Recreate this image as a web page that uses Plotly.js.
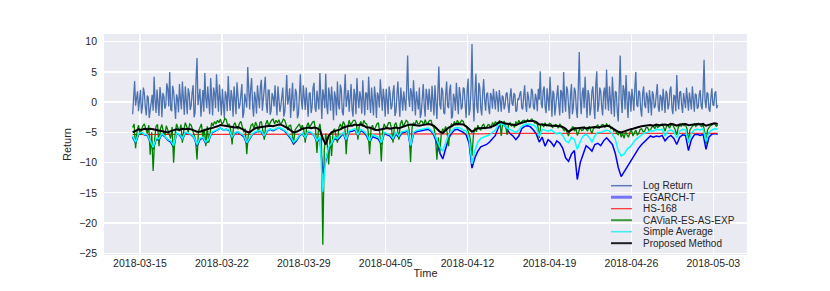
<!DOCTYPE html>
<html><head><meta charset="utf-8">
<script src="https://cdn.plot.ly/plotly-3.0.1.min.js"></script>
<style>html,body{margin:0;padding:0;background:#fff;}#chart{width:830px;height:291px;}</style>
</head><body><div id="chart"></div>
<script>
const seriesNames = ['Log Return','EGARCH-T','HS-168','CAViaR-ES-AS-EXP','Simple Average','Proposed Method'];
const xTickVals = ['2018-03-15','2018-03-22','2018-03-29','2018-04-05','2018-04-12','2018-04-19','2018-04-26','2018-05-03'];
const xTickText = ['2018-03-15','2018-03-22','2018-03-29','2018-04-05','2018-04-12','2018-04-19','2018-04-26','2018-05-03'];
const yTickVals = [-25,-20,-15,-10,-5,0,5,10];
const yTickText = ['\u221225','\u221220','\u221215','\u221210','\u22125','0','5','10'];

// log return, every 2 hours from 2018-03-14 09:00
const logReturn = [
-2.0,1.2,3.5,-0.6,0.5,1.8,-1.5,0.4,2.0,-1.9,-0.8,2.4,1.5,-0.9,-2.2,1.1,0.8,-2.6,-1.0,0.3,
1.2,-1.4,4.2,0.2,-1.8,2.1,0.5,-2.3,2.5,0.9,-2.5,1.5,1.0,-1.1,-0.5,3.1,2.2,-0.7,5.0,-1.2,
-1.5,2.7,1.8,-0.4,-2.8,1.3,0.6,-1.7,3.0,0.5,-1.2,3.4,0.3,-2.1,2.6,0.1,-2.0,2.3,1.4,-1.3,
-0.6,1.6,2.8,-2.5,-1.8,3.6,7.3,-0.5,1.0,2.2,-2.4,0.7,2.0,-1.6,4.8,0.6,-1.0,2.6,0.8,-2.0,
4.0,-0.8,-2.2,2.4,1.5,-1.0,4.6,1.2,-1.6,2.9,0.4,-2.2,2.2,0.3,-2.6,1.8,1.0,-1.5,4.3,0.6,
-1.4,2.0,0.8,-2.4,2.6,0.4,-2.0,3.3,1.2,-1.1,-0.4,1.9,3.0,-2.6,-1.8,1.4,0.5,-0.9,5.8,1.0,
-1.2,2.2,4.0,-0.6,-2.4,1.7,0.6,-1.9,2.8,0.8,-1.0,2.5,3.7,-1.4,0.2,1.6,4.2,-0.3,-1.8,2.0,
2.0,-2.1,-1.4,1.5,0.8,-0.7,2.8,0.1,-2.2,2.6,1.0,-1.6,-0.6,1.2,2.4,-2.4,-1.6,0.9,4.5,-0.4,
0.5,2.3,-2.6,0.6,3.2,-1.5,-0.8,2.2,1.5,-2.7,-2.0,1.0,4.6,0.2,-1.2,2.8,0.8,-1.3,2.4,0.5,
-2.4,1.4,1.6,-1.8,-0.8,2.4,3.2,-0.9,-1.6,1.9,0.6,-1.2,4.8,0.8,-2.8,2.1,1.0,-1.0,4.7,-0.6,
-2.0,2.4,1.2,-1.4,2.6,0.2,-3.0,1.8,0.8,-2.2,3.4,-0.4,-1.2,2.9,2.0,-1.6,-2.2,1.3,4.6,-0.8,
0.4,2.0,-1.6,0.9,3.0,-1.2,-2.4,2.2,1.2,-2.0,4.0,0.6,-1.0,1.8,0.6,-1.9,3.6,0.3,-2.2,1.6,
1.4,-1.3,4.2,0.4,-1.8,2.4,0.2,-2.2,2.6,0.9,-2.6,1.6,1.0,-0.9,3.8,-0.2,-1.4,2.2,0.6,-2.4,
2.2,0.4,-2.0,2.6,1.4,-1.2,-0.6,1.7,2.8,-2.3,-1.6,1.1,3.4,0.2,-2.4,2.4,0.8,-1.4,1.8,-0.4,
-1.4,2.1,7.7,0.8,-0.8,2.3,1.6,-1.5,3.6,0.6,-2.2,1.8,0.6,-1.2,2.4,-2.6,-1.8,1.4,3.0,-0.6,
-2.4,2.2,1.0,-1.3,2.2,0.2,-1.6,2.7,0.4,-2.2,2.8,0.5,-2.8,1.6,5.9,-0.4,-1.2,2.4,1.8,-1.7,
-2.0,1.2,3.4,-0.6,-1.0,1.9,2.9,-2.7,-2.4,1.4,0.6,-1.4,3.2,0.3,-2.0,2.5,1.2,-1.2,-0.8,2.4,
2.2,-0.4,-2.6,1.8,3.9,-2.2,-1.2,2.0,9.6,0.6,-3.2,1.4,4.7,-0.8,-1.8,3.2,2.4,-1.0,-2.2,1.6,
3.8,0.2,-1.4,1.3,1.6,-0.8,-2.0,1.5,1.0,-1.1,2.2,0.4,-1.2,1.8,0.6,-1.6,2.0,0.3,-1.6,1.1,
0.8,-1.2,-0.4,1.4,1.6,-0.5,-1.8,0.9,2.3,-0.2,-0.6,1.5,1.2,-1.6,-1.4,0.6,0.4,1.3,1.8,-0.9,
-1.2,1.0,2.8,-0.4,-1.6,1.7,0.8,-1.0,-0.6,2.2,1.8,-0.8,-1.2,1.4,0.6,-1.5,2.2,0.4,5.1,-0.2,
-1.0,1.9,2.6,-0.8,-1.8,2.3,0.8,-1.4,4.2,0.6,-2.4,1.9,1.4,-2.2,-0.6,1.6,2.8,-0.4,-2.2,2.0,
1.6,-1.8,5.0,0.4,-1.6,2.6,2.0,-0.6,-2.8,1.2,3.0,-2.0,-0.8,2.4,1.8,-1.2,-2.6,2.2,8.3,0.6,
-2.0,1.4,2.4,-1.0,4.2,0.2,-2.6,2.0,1.2,-2.2,-1.0,1.8,2.6,-0.6,-2.8,3.0,5.1,-1.6,-0.6,2.4,
1.8,-0.8,-2.2,1.6,2.4,-1.2,5.4,0.6,-1.4,2.6,0.6,-2.0,4.2,-0.2,-2.4,1.8,1.6,-1.6,-3.2,2.2,
7.7,0.4,-1.8,2.8,2.0,-1.2,4.5,0.2,-2.6,1.8,1.0,-1.6,2.2,0.6,-1.4,2.4,5.0,-0.4,-0.8,1.9,
1.6,-1.2,-2.4,1.4,2.6,-0.4,-1.0,1.6,0.8,-1.8,2.0,0.2,-2.2,1.8,1.2,-1.0,-0.6,1.3,3.0,-0.8,
-1.6,1.2,0.8,-1.4,2.2,0.4,-1.8,1.9,1.4,-1.2,-0.4,2.0,2.6,-0.9,-2.0,1.1,1.0,-1.5,4.5,0.3,
-1.2,1.6,1.8,-0.6,-1.8,1.5,0.6,-1.0,2.4,0.2,-1.4,1.6,0.4,-1.2,2.6,-0.4,-1.6,1.4,1.2,-1.1,
-0.8,1.2,2.0,-0.6,-1.2,1.8,7.0,0.2,-1.0,1.6,1.4,-1.2,-1.6,0.8,2.3,-0.4,-0.6,1.5,1.8,-1.0,
-0.5];

// EGARCH-T, every 6 hours from 2018-03-14 09:00
const egarch = [
-5.8,-6.8,-5.4,-5.1,-5.4,-5.5,-6.6,-7.8,-6.2,-6.2,
-5.3,-5.7,-6.3,-6.6,-7.5,-5.2,-5.4,-6.2,-5.1,-5.3,
-5.4,-5.9,-7.3,-6.2,-5.9,-6.8,-6.4,-5.1,-4.9,-4.6,
-4.3,-4.6,-4.5,-4.7,-6.0,-5.1,-5.0,-5.3,-5.7,-6.9,
-6.2,-5.3,-5.0,-4.8,-4.9,-5.8,-4.8,-4.5,-4.7,-4.5,
-4.2,-4.5,-4.8,-5.4,-6.0,-6.9,-6.4,-5.6,-5.2,-6.0,
-4.9,-5.1,-5.5,-6.6,-5.9,-11.8,-9.8,-7.8,-7.0,-6.0,
-6.3,-5.8,-5.2,-6.5,-4.9,-4.8,-4.6,-5.6,-4.7,-5.0,
-5.6,-6.7,-5.7,-5.9,-6.1,-7.0,-5.2,-5.4,-5.6,-6.3,
-5.2,-5.9,-5.1,-5.0,-4.8,-7.5,-5.2,-4.9,-4.8,-4.7,
-4.6,-4.5,-4.8,-5.5,-6.8,-8.4,-9.4,-7.6,-6.0,-5.2,
-4.6,-4.5,-4.7,-5.0,-5.4,-6.8,-10.9,-9.2,-8.1,-7.4,
-7.2,-7.0,-6.6,-6.0,-5.5,-4.2,-3.4,-3.8,-4.6,-5.2,
-5.6,-6.2,-5.6,-4.4,-4.0,-3.9,-4.1,-4.6,-5.3,-6.6,
-5.8,-7.3,-6.2,-6.6,-7.3,-6.4,-6.8,-7.6,-9.2,-9.8,
-8.6,-8.0,-12.8,-10.0,-8.6,-7.2,-7.6,-8.1,-7.0,-6.8,
-7.2,-6.4,-5.9,-6.4,-7.0,-8.5,-10.8,-12.3,-11.5,-10.6,
-10.0,-9.2,-8.4,-7.6,-7.0,-6.5,-6.0,-5.6,-5.8,-5.6,
-5.7,-5.5,-6.4,-5.8,-5.5,-6.0,-7.0,-5.8,-5.4,-5.5,
-8.0,-6.2,-5.4,-5.3,-5.5,-5.3,-7.8,-5.8,-5.3,-5.2,
-5.3];

// CAViaR-ES-AS-EXP, every 3 hours from 2018-03-14 09:00
const caviar = [
-4.2,-3.6,-7.6,-4.8,-3.8,-5.4,-4.6,-3.9,-3.6,-4.4,-5.2,-3.8,-8.7,-5.0,-11.4,-6.2,-4.0,-3.7,-7.3,-4.4,
-3.7,-4.9,-5.6,-3.9,-4.6,-5.2,-6.0,-4.1,-10.0,-5.4,-3.6,-4.3,-4.8,-3.7,-6.7,-4.6,-3.4,-4.1,-5.0,-3.6,
-3.8,-4.6,-5.4,-6.2,-9.5,-4.8,-4.2,-3.6,-5.8,-4.4,-7.3,-4.0,-6.7,-4.6,-3.4,-3.9,-3.2,-3.6,-3.0,-3.4,
-2.8,-3.6,-3.4,-2.7,-2.9,-3.9,-3.6,-4.6,-7.0,-3.8,-3.4,-4.2,-4.4,-3.5,-3.2,-4.1,-5.0,-4.4,-8.6,-5.6,
-4.4,-3.8,-3.6,-4.5,-3.3,-3.9,-5.0,-3.4,-3.2,-4.4,-6.2,-3.6,-3.0,-3.9,-3.4,-3.0,-2.8,-3.6,-3.0,-3.4,
-2.9,-3.7,-3.4,-2.8,-3.0,-3.8,-4.6,-3.9,-3.8,-5.0,-7.0,-4.6,-4.2,-3.8,-3.6,-4.4,-3.8,-4.6,-6.7,-4.0,
-3.4,-4.2,-3.8,-3.3,-3.2,-4.4,-8.4,-4.6,-3.6,-5.4,-23.6,-8.0,-5.2,-6.8,-10.3,-5.6,-8.9,-4.8,-4.4,-5.6,
-6.7,-4.2,-3.6,-4.4,-3.2,-3.7,-8.6,-4.2,-3.0,-3.8,-3.4,-3.0,-3.0,-3.6,-6.2,-3.8,-3.2,-4.0,-3.0,-3.5,
-3.6,-4.8,-8.6,-4.4,-3.8,-4.6,-4.2,-3.6,-3.4,-5.2,-9.8,-4.6,-3.6,-4.2,-4.0,-3.4,-3.4,-4.4,-6.7,-3.8,
-3.4,-4.4,-6.2,-3.6,-3.0,-4.0,-3.6,-3.0,-3.2,-4.6,-9.9,-4.2,-3.4,-3.8,-3.0,-3.6,-3.6,-3.1,-3.2,-3.8,
-2.9,-3.6,-3.4,-3.0,-3.0,-3.9,-4.2,-5.6,-9.5,-5.8,-8.4,-5.2,-4.4,-4.8,-4.0,-5.0,-7.3,-4.2,-3.6,-3.9,
-3.2,-3.8,-3.0,-3.5,-3.4,-3.0,-3.2,-3.9,-4.0,-4.6,-5.2,-6.4,-8.9,-5.4,-4.2,-4.9,-3.8,-4.4,-4.6,-3.9,
-3.6,-4.4,-4.2,-3.7,-3.8,-4.3,-3.4,-3.8,-3.2,-3.6,-3.4,-3.0,-5.6,-3.4,-3.2,-3.9,-5.4,-3.6,-3.4,-4.0,
-3.6,-4.2,-3.2,-3.7,-3.0,-3.5,-3.2,-3.0,-3.0,-3.3,-2.9,-3.2,-3.0,-2.8,-3.2,-3.5,-3.4,-3.9,-5.9,-3.8,
-3.6,-4.1,-3.4,-3.9,-3.8,-3.5,-3.6,-4.2,-4.0,-3.7,-3.8,-4.3,-3.6,-4.0,-4.2,-4.7,-4.4,-5.0,-5.6,-4.6,
-4.4,-4.0,-4.8,-4.3,-5.5,-4.9,-4.2,-4.7,-4.6,-4.1,-4.4,-4.8,-4.0,-4.5,-5.2,-4.4,-4.2,-3.9,-3.8,-4.3,
-4.0,-3.7,-3.8,-4.2,-3.6,-3.9,-3.8,-4.4,-4.2,-4.8,-4.6,-5.2,-5.4,-4.8,-5.8,-5.2,-6.0,-4.9,-5.4,-5.8,
-5.0,-4.6,-5.6,-5.0,-4.6,-5.4,-5.2,-4.5,-4.4,-4.9,-4.8,-4.2,-4.2,-4.7,-4.6,-4.1,-4.0,-4.4,-3.8,-4.2,
-4.0,-3.7,-3.6,-4.1,-4.8,-4.0,-3.8,-4.3,-3.8,-3.6,-4.0,-4.6,-5.4,-4.2,-3.8,-4.0,-3.6,-3.9,-3.8,-4.4,
-6.7,-4.6,-4.2,-3.8,-3.6,-4.0,-3.8,-3.5,-3.6,-4.1,-3.7,-4.8,-7.0,-4.6,-4.2,-3.9,-3.8,-3.5,-3.6,-4.0,
-3.8];

// Simple Average, every 6 hours
const simpleAvg = [
-5.6,-6.6,-5.2,-5.0,-5.3,-5.4,-6.4,-7.5,-6.0,-6.0,
-5.2,-5.6,-6.2,-6.4,-7.2,-5.1,-5.3,-6.0,-5.0,-5.2,
-5.3,-5.8,-7.0,-6.0,-5.8,-6.6,-6.2,-5.0,-4.8,-4.6,
-4.3,-4.6,-4.5,-4.6,-5.8,-5.0,-4.9,-5.2,-5.5,-6.7,
-6.0,-5.2,-4.9,-4.7,-4.8,-5.6,-4.7,-4.4,-4.6,-4.4,
-4.2,-4.4,-4.7,-5.2,-5.8,-6.6,-6.2,-5.5,-5.1,-5.8,
-4.8,-5.0,-5.4,-6.4,-5.7,-14.8,-9.5,-7.4,-6.8,-5.8,
-6.0,-5.5,-5.0,-6.2,-4.7,-4.6,-4.4,-5.4,-4.5,-4.8,
-5.3,-6.4,-5.4,-5.6,-5.8,-6.7,-5.0,-5.2,-5.4,-6.0,
-5.0,-5.6,-4.9,-4.8,-4.6,-7.2,-5.0,-4.7,-4.6,-4.5,
-4.4,-4.3,-4.6,-5.2,-6.2,-7.4,-8.1,-6.6,-5.4,-4.8,
-4.3,-4.2,-4.3,-4.6,-4.8,-6.0,-10.2,-8.0,-6.6,-6.0,
-5.8,-5.6,-5.4,-5.0,-4.6,-3.8,-3.5,-3.8,-4.3,-4.5,
-4.8,-5.0,-4.6,-4.0,-3.7,-3.6,-3.7,-3.8,-4.2,-5.6,
-4.5,-4.6,-4.8,-4.6,-4.9,-5.3,-5.0,-5.5,-6.4,-6.7,
-5.8,-6.2,-7.8,-6.5,-5.6,-5.3,-5.8,-6.6,-5.6,-5.0,
-5.0,-4.8,-4.6,-4.8,-5.3,-6.2,-8.0,-8.9,-8.6,-7.8,
-7.4,-6.8,-6.2,-5.8,-5.4,-5.1,-5.0,-4.7,-4.8,-4.5,
-4.6,-4.5,-5.6,-4.8,-4.6,-4.9,-5.9,-4.8,-4.5,-4.6,
-6.6,-5.2,-4.6,-4.5,-4.6,-4.4,-6.5,-5.0,-4.6,-4.4,
-4.5];

// Proposed Method, every 6 hours
const proposed = [
-5.0,-4.7,-4.5,-4.6,-4.4,-4.5,-4.4,-4.5,-4.6,-4.6,
-4.7,-4.9,-5.0,-4.8,-4.6,-4.5,-4.6,-4.4,-4.5,-4.4,
-4.5,-4.7,-4.9,-4.9,-4.7,-4.5,-4.4,-4.3,-4.2,-4.0,
-3.8,-3.9,-3.9,-4.0,-4.1,-4.2,-4.1,-4.3,-4.6,-4.9,
-5.0,-4.6,-4.3,-4.2,-4.1,-4.0,-4.0,-3.9,-4.0,-3.8,
-3.7,-3.8,-4.0,-4.3,-4.7,-5.0,-4.9,-4.6,-4.4,-4.3,
-4.2,-4.3,-4.2,-4.3,-4.6,-6.0,-7.0,-5.6,-5.0,-4.8,
-4.7,-4.5,-4.2,-4.0,-3.9,-3.9,-3.7,-3.8,-3.7,-3.9,
-4.2,-4.2,-4.4,-4.6,-4.6,-4.5,-4.3,-4.3,-4.4,-4.3,
-4.2,-4.3,-4.1,-4.0,-3.8,-3.7,-3.8,-3.9,-3.9,-3.8,
-3.7,-3.6,-3.7,-3.9,-4.4,-4.9,-5.1,-4.6,-4.2,-4.0,
-3.7,-3.6,-3.6,-3.7,-4.0,-4.4,-4.9,-4.6,-4.3,-4.3,
-4.3,-4.2,-4.2,-4.0,-3.8,-3.4,-3.3,-3.5,-3.6,-3.7,
-3.8,-3.8,-3.6,-3.4,-3.2,-3.1,-3.1,-3.1,-3.3,-3.7,
-3.7,-3.8,-3.8,-3.9,-3.9,-3.9,-4.0,-4.1,-4.4,-4.9,
-4.6,-4.3,-4.3,-4.2,-4.2,-4.3,-4.2,-4.2,-4.1,-4.2,
-4.1,-4.0,-3.9,-4.0,-4.3,-4.6,-4.9,-5.0,-4.8,-4.6,
-4.5,-4.4,-4.2,-4.1,-4.0,-3.9,-3.9,-3.8,-3.9,-3.7,
-3.8,-3.7,-3.7,-3.8,-3.6,-3.7,-3.9,-3.7,-3.6,-3.6,
-3.8,-3.7,-3.6,-3.6,-3.7,-3.6,-3.9,-3.7,-3.6,-3.5,
-3.6];

// HS-168, daily from 2018-03-14 09:00
const hs168 = [
-5.35,-5.35,-5.35,-5.35,-5.35,-5.35,-5.35,-5.35,-5.35,-5.35,
-5.35,-5.35,-5.35,-5.35,-5.35,-5.35,-5.35,-5.35,-5.25,-5.25,
-5.25,-5.25,-5.25,-5.25,-5.25,-5.25,-5.25,-5.25,-5.25,-5.25,
-5.25,-5.15,-5.15,-5.15,-5.15,-5.15,-5.15,-5.15,-5.15,-5.15,
-5.15,-5.15,-5.15,-5.15,-5.15,-5.15,-5.15,-5.15,-5.15,-5.15,
-5.15];

function timeAxis(stepHours, n) {
  const start = Date.UTC(2018, 2, 14, 9, 0);
  const out = [];
  for (let i = 0; i < n; i++) {
    out.push(new Date(start + i * stepHours * 3600000).toISOString().slice(0, 16).replace('T', ' '));
  }
  return out;
}

const plotColors = ['#4C72B0', '#0000ff', '#ff0000', '#008000', '#00ffff', '#000000'];
const plotWidths = [1.3, 1.5, 1.0, 1.3, 1.5, 2.0];
const legendColors = ['#5a7dba', '#7474ff', '#ff2a2a', '#3c993c', '#3cf0f0', '#1e1e1e'];
const legendWidths = [1.5, 3, 1.2, 2, 1.5, 2];

const seriesData = [logReturn, egarch, hs168, caviar, simpleAvg, proposed];
const seriesStep = [2, 6, 24, 3, 6, 6];

const traces = seriesData.map((ys, k) => ({
  type: 'scatter', mode: 'lines', name: seriesNames[k],
  x: timeAxis(seriesStep[k], ys.length), y: ys,
  line: {color: plotColors[k], width: plotWidths[k]},
  showlegend: false, hoverinfo: 'skip'
}));

const font = {family: 'Liberation Sans, Arial, sans-serif', color: '#262626'};
const rowY = [0.3136, 0.2615, 0.2095, 0.1575, 0.1054, 0.0534];
const shapes = seriesNames.map((n, k) => ({
  type: 'line', xref: 'paper', yref: 'paper', x0: 0.7885, x1: 0.8211, y0: rowY[k], y1: rowY[k],
  line: {color: legendColors[k], width: legendWidths[k]}
}));
const annotations = seriesNames.map((n, k) => ({
  xref: 'paper', yref: 'paper', x: 0.835, y: rowY[k], xanchor: 'left', yanchor: 'middle',
  text: n, showarrow: false, font: Object.assign({}, font, {size: 10})
}));

const layout = {
  width: 830, height: 291,
  margin: {l: 104, r: 83, t: 34, b: 36},
  paper_bgcolor: '#ffffff', plot_bgcolor: '#EAEAF2',
  font: font,
  showlegend: false,
  xaxis: {
    type: 'date', range: ['2018-03-11 22:13', '2018-05-05 21:04'],
    tickmode: 'array', tickvals: xTickVals, ticktext: xTickText,
    tickfont: Object.assign({}, font, {size: 10.5}),
    showgrid: true, gridcolor: '#ffffff', gridwidth: 1.3,
    zeroline: false, showline: false, ticks: '', ticklen: 0, ticklabelstandoff: 0,
    title: {text: 'Time', font: Object.assign({}, font, {size: 11}), standoff: 1}
  },
  yaxis: {
    range: [-25.28, 11.27],
    tickmode: 'array', tickvals: yTickVals, ticktext: yTickText,
    tickfont: Object.assign({}, font, {size: 10.5}),
    showgrid: true, gridcolor: '#ffffff', gridwidth: 1.3,
    zeroline: false, showline: false, ticks: '', ticklen: 0, ticklabelstandoff: 6,
    title: {text: 'Return', font: Object.assign({}, font, {size: 11}), standoff: 5}
  },
  shapes: shapes,
  annotations: annotations
};

Plotly.newPlot('chart', traces, layout, {staticPlot: true, displayModeBar: false});
</script></body></html>
